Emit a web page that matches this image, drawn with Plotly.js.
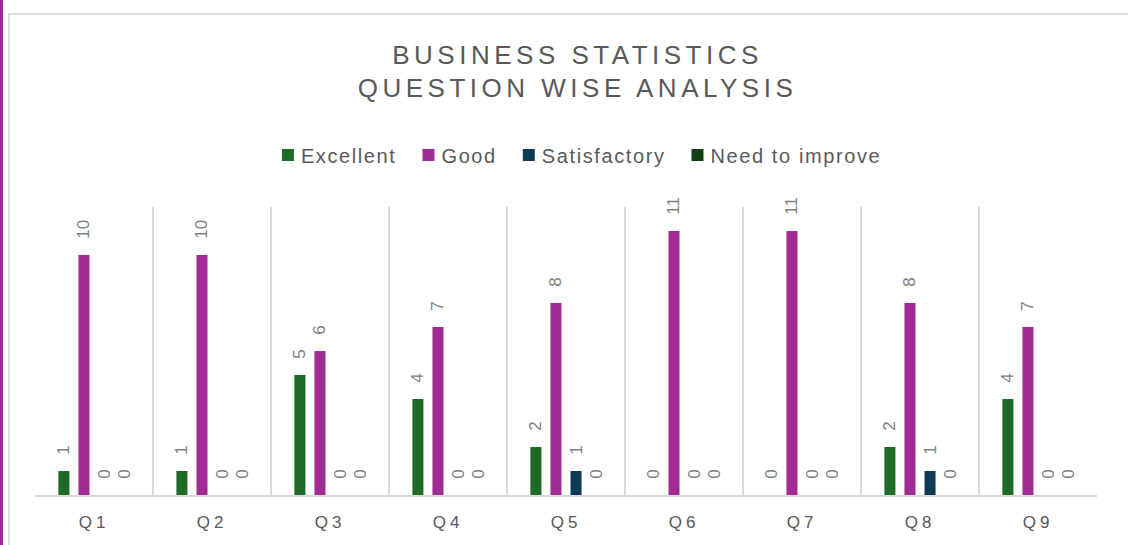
<!DOCTYPE html>
<html>
<head>
<meta charset="utf-8">
<script src="https://cdn.plot.ly/plotly-3.0.1.min.js"></script>
<style>
  html, body { margin:0; padding:0; background:#fff; overflow:hidden; }
  #wrap { position:relative; width:1128px; height:545px; }
  #chart { position:absolute; left:0; top:0; width:1128px; height:545px; }
  #frame { position:absolute; left:8px; top:13px; width:1130px; height:540px; border:2px solid #dedede; box-sizing:border-box; pointer-events:none; }
  #strip { position:absolute; left:0; top:0; width:3px; height:545px; background:#a02b93; pointer-events:none; }
  .gtitle { letter-spacing:4.5px; }
  .xtick text { letter-spacing:4px; }
  .legendtext { letter-spacing:1.6px; transform: translateX(-7px); }
</style>
</head>
<body>
<div id="wrap">
  <div id="chart"></div>
  <div id="frame"></div>
  <div id="strip"></div>
</div>
<script>
const categories = ["Q1","Q2","Q3","Q4","Q5","Q6","Q7","Q8","Q9"];
const seriesNames = ["Excellent","Good","Satisfactory","Need to improve"];
const excellent = [1,1,5,4,2,0,0,2,4];
const good = [10,10,6,7,8,11,11,8,7];
const satisfactory = [0,0,0,0,1,0,0,1,0];
const needToImprove = [0,0,0,0,0,0,0,0,0];
const colors = ["#1d6b25","#a02b93","#0e3b53","#103f15"];

const fontFam = '"Liberation Sans", Arial, sans-serif';
const values = [excellent, good, satisfactory, needToImprove];
const labelPad = '\u2002\u00a0';
const traces = values.map((v, i) => ({
  type: 'bar',
  name: seriesNames[i],
  x: categories,
  y: v,
  marker: { color: colors[i], line: { width: 0 } },
  text: v.map(n => labelPad + n),
  textposition: 'outside',
  textangle: -90,
  constraintext: 'none',
  cliponaxis: false,
  textfont: { family: fontFam, size: 17, color: '#808080' },
  hoverinfo: 'x+y+name'
}));

const layout = {
  width: 1128,
  height: 545,
  margin: { l: 35, r: 31, t: 207, b: 50 },
  paper_bgcolor: '#ffffff',
  plot_bgcolor: '#ffffff',
  barmode: 'group',
  bargap: 0.32,
  bargroupgap: 0.45,
  font: { family: fontFam, color: '#595959' },
  title: {
    text: 'BUSINESS STATISTICS<br>QUESTION WISE ANALYSIS',
    font: { family: fontFam, size: 26, color: '#595959' },
    x: 0.512, xanchor: 'center',
    xref: 'container',
    y: 1 - 63.5/545, yanchor: 'middle', yref: 'container'
  },
  showlegend: true,
  legend: {
    orientation: 'h',
    x: 0.515, xanchor: 'center', xref: 'container',
    y: 1 - 155/545, yanchor: 'middle', yref: 'container',
    font: { family: fontFam, size: 20, color: '#595959' },
    traceorder: 'normal',
    itemwidth: 30,
    tracegroupgap: 0
  },
  xaxis: {
    type: 'category',
    tickson: 'boundaries',
    showgrid: true,
    gridcolor: '#d9d9d9',
    gridwidth: 1.5,
    showline: true,
    linecolor: '#d9d9d9',
    linewidth: 1.5,
    ticks: '',
    ticklen: 0,
    ticklabelstandoff: 11,
    tickfont: { family: fontFam, size: 17, color: '#595959' },
    fixedrange: true
  },
  yaxis: {
    range: [0, 12],
    visible: false,
    showgrid: false,
    zeroline: false,
    fixedrange: true
  }
};

Plotly.newPlot('chart', traces, layout, { displayModeBar: false, staticPlot: true });
</script>
</body>
</html>
